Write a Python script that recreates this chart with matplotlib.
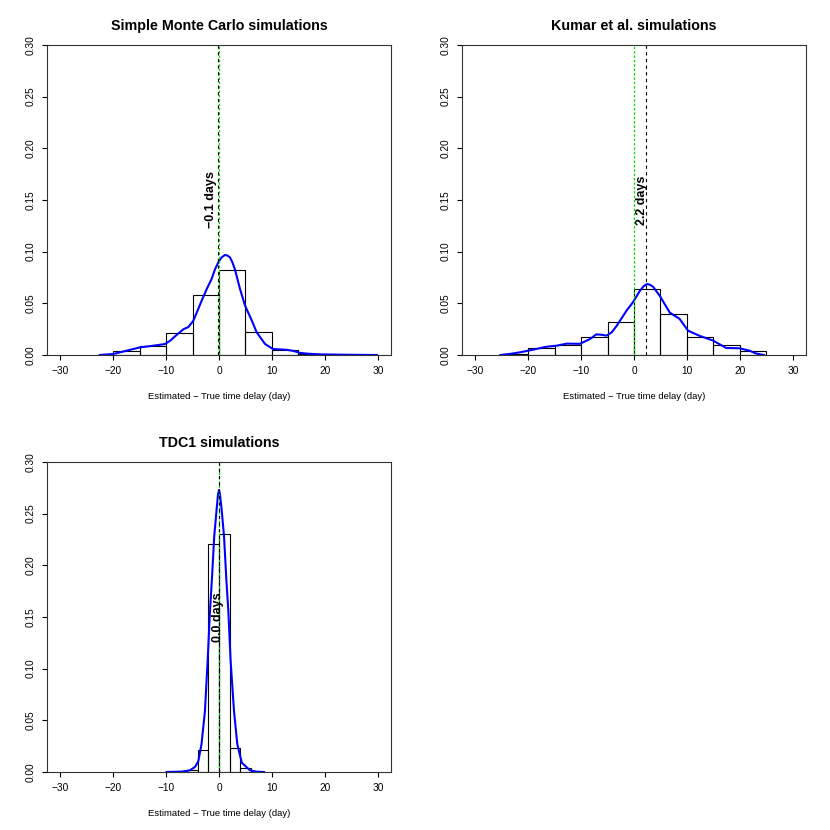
import matplotlib
matplotlib.use("Agg")
import matplotlib.pyplot as plt
import numpy as np

plt.rcParams['font.family'] = ['Liberation Sans', 'DejaVu Sans']

titles = ['Simple Monte Carlo simulations', 'Kumar et al. simulations', 'TDC1 simulations']
estimates = [-0.1, 2.2, 0.0]
est_labels = ['\u22120.1 days', '2.2 days', '0.0 days']
true_delay = 0.0

# histogram bins (density scale)
mc_edges = [-20, -15, -10, -5, 0, 5, 10, 15, 20]
mc_heights = [0.0039, 0.0084, 0.021, 0.058, 0.082, 0.0223, 0.0046, 0.0006]

kumar_edges = [-25, -20, -15, -10, -5, 0, 5, 10, 15, 20, 25]
kumar_heights = [0.0013, 0.0065, 0.0097, 0.0177, 0.0316, 0.0639, 0.040, 0.0171, 0.0094, 0.0035]

tdc_edges = [-6, -4, -2, 0, 2, 4, 6]
tdc_heights = [0.0016, 0.0214, 0.2208, 0.2305, 0.0237, 0.0036]

# kernel density curves
mc_kx = [-22.5, -19.9, -17.4, -14.9, -12.4, -10.2, -9.2, -8.0, -6.7, -5.8, -4.85, -4.2, -3.27,
         -2.3, -1.4, -0.75, -0.1, 0.5, 1.13, 1.6, 2.07, 2.5, 3.0, 3.96, 4.9, 6.2, 7.1, 8.7, 10.2,
         12.8, 14.0, 15.3, 17.0, 19.0, 22.0, 25.0, 29.8]
mc_ky = [0.0, 0.001, 0.0042, 0.0074, 0.009, 0.0106, 0.0139, 0.0194, 0.025, 0.027, 0.033, 0.041,
         0.0526, 0.064, 0.0735, 0.083, 0.090, 0.0945, 0.0968, 0.0962, 0.0945, 0.090, 0.083, 0.064,
         0.048, 0.0332, 0.022, 0.0106, 0.0058, 0.005, 0.004, 0.002, 0.0012, 0.0006, 0.0004,
         0.0002, 0.0]

kumar_kx = [-25.2, -23.5, -21.5, -19.0, -16.5, -14.6, -12.7, -10.2, -8.3, -7.1, -6.0, -5.2, -4.2,
            -3.3, -1.4, -0.2, 1.1, 1.8, 2.45, 3.0, 3.6, 4.9, 6.75, 8.6, 10.2, 12.4, 14.9, 17.4,
            19.9, 21.8, 23.0, 24.5]
kumar_ky = [0.0, 0.001, 0.0026, 0.0052, 0.008, 0.009, 0.011, 0.0108, 0.0155, 0.020, 0.0195, 0.0187,
            0.022, 0.028, 0.043, 0.051, 0.062, 0.0665, 0.0687, 0.068, 0.066, 0.057, 0.041, 0.035,
            0.0235, 0.0185, 0.014, 0.0068, 0.0065, 0.0042, 0.0015, 0.0]

tdc_kx = [-9.9, -7.0, -5.5, -4.5, -3.9, -3.3, -2.65, -2.15, -1.7, -1.3, -0.9, -0.45, -0.2, 0.0,
          0.2, 0.5, 0.95, 1.4, 1.76, 2.2, 2.83, 3.45, 4.3, 5.85, 7.0, 8.5]
tdc_ky = [0.0, 0.0004, 0.0016, 0.005, 0.0106, 0.027, 0.059, 0.107, 0.156, 0.19, 0.228, 0.254,
          0.268, 0.273, 0.268, 0.254, 0.228, 0.185, 0.156, 0.107, 0.059, 0.027, 0.009, 0.0016,
          0.0004, 0.0]

panels = [
    (mc_edges, mc_heights, mc_kx, mc_ky),
    (kumar_edges, kumar_heights, kumar_kx, kumar_ky),
    (tdc_edges, tdc_heights, tdc_kx, tdc_ky),
]
label_shift = [-1.4, -0.6, -0.1]

fig = plt.figure(figsize=(8.3, 8.3), dpi=100)
W = 830.0
boxes = [(47.3, 355), (462.3, 355), (47.3, 772)]  # left px, bottom px
bw, bh = 343.4, 310

for i, (edges, heights, kx, ky) in enumerate(panels):
    left, bottom = boxes[i]
    ax = fig.add_axes([left / W, (W - bottom) / W, bw / W, bh / W])
    edges = np.array(edges, dtype=float)
    ax.bar(edges[:-1], heights, width=np.diff(edges), align='edge',
           fill=False, edgecolor='black', linewidth=0.8)
    ax.plot(kx, ky, color='blue', lw=1.5, solid_joinstyle='round')
    ax.axvline(true_delay, color='#00dd00', lw=0.9, linestyle=(0, (2, 1.5)))
    ax.axvline(estimates[i], color='black', lw=0.8, linestyle=(0, (3, 3)))
    ax.text(estimates[i] + label_shift[i], 0.15, est_labels[i], rotation=90,
            ha='center', va='center', fontsize=9, fontweight='bold')

    ax.set_xlim(-32.4, 32.4)
    ax.set_ylim(0, 0.3)
    ax.set_xticks([-30, -20, -10, 0, 10, 20, 30])
    ax.set_yticks([0, 0.05, 0.10, 0.15, 0.20, 0.25, 0.30])
    ax.set_yticklabels(['0.00', '0.05', '0.10', '0.15', '0.20', '0.25', '0.30'],
                       rotation=90, va='center')
    ax.tick_params(axis='both', direction='out', length=3.6, width=0.8,
                   labelsize=7.3, colors='black')
    ax.tick_params(axis='x', pad=4.5)
    ax.tick_params(axis='y', pad=4.5)
    for s in ax.spines.values():
        s.set_linewidth(0.8)
        s.set_color('#333333')
    ax.set_title(titles[i], fontsize=10.3, fontweight='bold', pad=11)
    ax.set_xlabel('Estimated \u2212 True time delay (day)', fontsize=6.8, labelpad=11)

fig.savefig('out.png', dpi=100)
